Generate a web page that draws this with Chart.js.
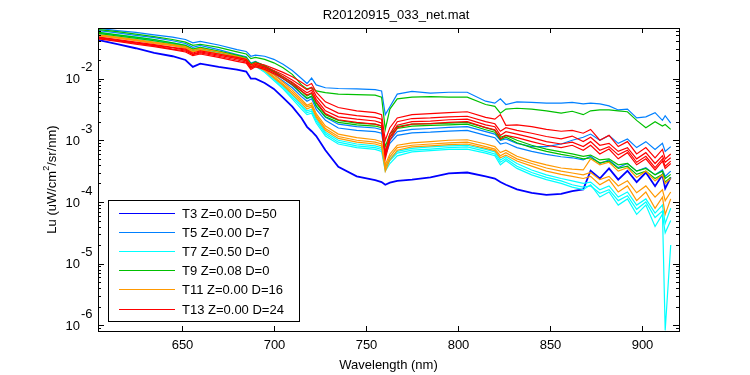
<!DOCTYPE html>
<html>
<head>
<meta charset="utf-8">
<title>R20120915_033_net.mat</title>
<script src="https://cdn.jsdelivr.net/npm/chart.js@4.4.0/dist/chart.umd.min.js"></script>
<style>
  html, body { margin: 0; padding: 0; background: #fff; }
  #wrap { width: 750px; height: 375px; }
</style>
</head>
<body>
<div id="wrap"><canvas id="chart" width="750" height="375"></canvas></div>
<script>
// wavelength grid (nm)
const wavelength = [605, 615, 625, 635, 645, 652, 656, 660, 670, 680, 685, 687.5, 690, 695, 700, 705, 710, 715, 718, 720.5, 723, 728, 735, 745, 755, 758.5, 760.5, 763, 767, 775, 785, 795, 805, 815, 820, 823, 826, 832, 840, 848, 856, 862, 868, 872, 877, 882, 887, 892, 897, 902, 907, 911, 912.5, 915.5];

// T3 (one cast)
const t3 = [4.2e-2, 3.6e-2, 3.1e-2, 2.6e-2, 2.3e-2, 2.0e-2, 1.55e-2, 1.75e-2, 1.55e-2, 1.4e-2, 1.3e-2, 1.0e-2, 1.0e-2, 8.5e-3, 6.8e-3, 4.9e-3, 3.5e-3, 2.3e-3, 1.65e-3, 1.4e-3, 1.17e-3, 6.9e-4, 3.7e-4, 2.6e-4, 2.25e-4, 2.1e-4, 1.9e-4, 2.05e-4, 2.2e-4, 2.3e-4, 2.5e-4, 2.9e-4, 3.0e-4, 2.6e-4, 2.4e-4, 2.1e-4, 1.9e-4, 1.6e-4, 1.4e-4, 1.3e-4, 1.35e-4, 1.5e-4, 1.6e-4, 3.2e-4, 2.4e-4, 3.5e-4, 2.3e-4, 3.2e-4, 2.1e-4, 3.0e-4, 1.8e-4, 2.75e-4, 1.65e-4, 2.5e-4];

// T5
const t5a = [6.5e-2, 6.0e-2, 5.6e-2, 5.1e-2, 4.7e-2, 4.3e-2, 3.8e-2, 4.0e-2, 3.5e-2, 2.95e-2, 2.75e-2, 2.3e-2, 2.4e-2, 2.3e-2, 2.05e-2, 1.7e-2, 1.35e-2, 1.0e-2, 8.3e-3, 1.02e-2, 7.9e-3, 7.1e-3, 6.9e-3, 6.8e-3, 6.6e-3, 6.3e-3, 2.6e-3, 3.5e-3, 5.6e-3, 6.2e-3, 5.8e-3, 6.0e-3, 6.0e-3, 4.3e-3, 4.0e-3, 4.7e-3, 3.8e-3, 4.2e-3, 4.1e-3, 4.0e-3, 4.0e-3, 4.1e-3, 3.9e-3, 4.0e-3, 3.9e-3, 3.6e-3, 3.1e-3, 3.2e-3, 2.3e-3, 2.4e-3, 2.8e-3, 2.1e-3, 2.5e-3, 1.9e-3];
const t5b = [6.0e-2, 5.5e-2, 5.0e-2, 4.6e-2, 4.1e-2, 3.7e-2, 3.2e-2, 3.45e-2, 2.95e-2, 2.45e-2, 2.25e-2, 1.78e-2, 1.9e-2, 1.58e-2, 1.26e-2, 1.0e-2, 7.8e-3, 5.6e-3, 4.7e-3, 5.1e-3, 3.55e-3, 2.35e-3, 1.82e-3, 1.66e-3, 1.58e-3, 1.48e-3, 6.3e-4, 1.0e-3, 1.38e-3, 1.5e-3, 1.55e-3, 1.62e-3, 1.66e-3, 1.38e-3, 1.26e-3, 1.0e-3, 1.05e-3, 8.9e-4, 7.9e-4, 7.9e-4, 8.7e-4, 1.0e-3, 1.12e-3, 1.26e-3, 1.0e-3, 1.2e-3, 8.9e-4, 1.05e-3, 7.6e-4, 9.5e-4, 7.1e-4, 8.9e-4, 6.6e-4, 7.9e-4];
const t5c = [5.5e-2, 5.0e-2, 4.6e-2, 4.2e-2, 3.7e-2, 3.4e-2, 2.95e-2, 3.16e-2, 2.7e-2, 2.3e-2, 2.1e-2, 1.66e-2, 1.78e-2, 1.48e-2, 1.15e-2, 9.1e-3, 7.1e-3, 5.1e-3, 4.3e-3, 4.7e-3, 3.16e-3, 2.1e-3, 1.58e-3, 1.45e-3, 1.38e-3, 1.3e-3, 5.6e-4, 8.9e-4, 1.2e-3, 1.32e-3, 1.35e-3, 1.41e-3, 1.45e-3, 1.2e-3, 1.1e-3, 8.7e-4, 9.1e-4, 7.6e-4, 6.6e-4, 5.9e-4, 5.4e-4, 5.2e-4, 4.8e-4, 5.5e-4, 4.2e-4, 4.8e-4, 3.6e-4, 4.2e-4, 3.16e-4, 3.6e-4, 2.75e-4, 3.3e-4, 2.6e-4, 3.16e-4];

// T7
const t7a = [5.6e-2, 5.1e-2, 4.7e-2, 4.3e-2, 3.8e-2, 3.45e-2, 3.0e-2, 3.2e-2, 2.75e-2, 2.3e-2, 2.1e-2, 1.62e-2, 1.7e-2, 1.38e-2, 1.02e-2, 7.6e-3, 5.4e-3, 3.7e-3, 3.0e-3, 3.16e-3, 2.2e-3, 1.35e-3, 1.0e-3, 8.7e-4, 8.1e-4, 7.6e-4, 3.7e-4, 5.0e-4, 6.6e-4, 7.4e-4, 7.8e-4, 8.1e-4, 8.3e-4, 7.1e-4, 6.5e-4, 4.8e-4, 5.4e-4, 4.2e-4, 3.3e-4, 2.75e-4, 2.4e-4, 2.2e-4, 2.0e-4, 2.1e-4, 1.58e-4, 1.82e-4, 1.2e-4, 1.45e-4, 8.9e-5, 1.12e-4, 6.6e-5, 8.9e-5, 4.5e-5, 7.9e-5];
const t7b = [5.4e-2, 4.9e-2, 4.5e-2, 4.1e-2, 3.6e-2, 3.3e-2, 2.9e-2, 3.1e-2, 2.6e-2, 2.2e-2, 2.0e-2, 1.55e-2, 1.62e-2, 1.32e-2, 9.8e-3, 7.2e-3, 5.0e-3, 3.5e-3, 2.8e-3, 2.95e-3, 2.05e-3, 1.26e-3, 9.3e-4, 8.1e-4, 7.6e-4, 7.1e-4, 3.55e-4, 4.7e-4, 6.2e-4, 6.9e-4, 7.2e-4, 7.6e-4, 7.8e-4, 6.6e-4, 6.0e-4, 4.4e-4, 5.0e-4, 3.8e-4, 3.0e-4, 2.5e-4, 2.2e-4, 1.9e-4, 1.74e-4, 1.82e-4, 1.38e-4, 1.58e-4, 1.05e-4, 1.26e-4, 7.6e-5, 1.0e-4, 5.6e-5, 7.1e-5, 8.3e-7, 2.0e-5];
const t7c = [5.25e-2, 4.8e-2, 4.4e-2, 4.0e-2, 3.55e-2, 3.2e-2, 2.8e-2, 3.0e-2, 2.55e-2, 2.15e-2, 1.95e-2, 1.5e-2, 1.58e-2, 1.26e-2, 9.3e-3, 6.8e-3, 4.7e-3, 3.2e-3, 2.6e-3, 2.75e-3, 1.9e-3, 1.17e-3, 8.7e-4, 7.6e-4, 7.1e-4, 6.6e-4, 3.16e-4, 4.2e-4, 5.6e-4, 6.5e-4, 6.8e-4, 7.1e-4, 7.2e-4, 6.2e-4, 5.6e-4, 4.0e-4, 4.7e-4, 3.5e-4, 2.75e-4, 2.3e-4, 2.0e-4, 1.74e-4, 1.58e-4, 1.9e-4, 1.2e-4, 1.45e-4, 8.9e-5, 1.12e-4, 6.3e-5, 8.9e-5, 4.0e-5, 6.3e-5, 3.16e-5, 5.0e-5];

// T9
const t9a = [6.2e-2, 5.75e-2, 5.25e-2, 4.8e-2, 4.3e-2, 3.9e-2, 3.45e-2, 3.6e-2, 3.2e-2, 2.7e-2, 2.5e-2, 2.1e-2, 2.2e-2, 2.05e-2, 1.8e-2, 1.5e-2, 1.17e-2, 7.9e-3, 6.8e-3, 7.1e-3, 6.3e-3, 5.9e-3, 5.6e-3, 5.5e-3, 5.4e-3, 5.0e-3, 1.5e-3, 3.2e-3, 4.7e-3, 5.0e-3, 5.1e-3, 5.0e-3, 5.0e-3, 3.8e-3, 3.55e-3, 2.75e-3, 3.2e-3, 3.3e-3, 3.2e-3, 3.0e-3, 2.75e-3, 2.95e-3, 2.6e-3, 3.0e-3, 3.1e-3, 3.1e-3, 3.0e-3, 2.9e-3, 2.1e-3, 1.6e-3, 2.0e-3, 1.7e-3, 1.8e-3, 1.5e-3];
const t9b = [5.6e-2, 5.1e-2, 4.7e-2, 4.3e-2, 3.8e-2, 3.45e-2, 3.0e-2, 3.2e-2, 2.8e-2, 2.4e-2, 2.2e-2, 1.74e-2, 1.86e-2, 1.62e-2, 1.32e-2, 1.07e-2, 8.5e-3, 6.3e-3, 5.2e-3, 5.75e-3, 4.0e-3, 2.6e-3, 2.1e-3, 1.9e-3, 1.82e-3, 1.7e-3, 7.9e-4, 1.26e-3, 1.66e-3, 1.82e-3, 1.86e-3, 1.9e-3, 1.95e-3, 1.6e-3, 1.45e-3, 1.12e-3, 1.2e-3, 1.0e-3, 8.3e-4, 7.2e-4, 6.5e-4, 6.0e-4, 5.5e-4, 5.75e-4, 4.8e-4, 5.0e-4, 4.0e-4, 4.2e-4, 3.16e-4, 3.5e-4, 2.75e-4, 3.16e-4, 2.4e-4, 2.8e-4];
const t9c = [5.4e-2, 4.9e-2, 4.5e-2, 4.1e-2, 3.6e-2, 3.3e-2, 2.9e-2, 3.1e-2, 2.7e-2, 2.3e-2, 2.1e-2, 1.66e-2, 1.78e-2, 1.55e-2, 1.26e-2, 1.0e-2, 7.9e-3, 5.75e-3, 4.8e-3, 5.2e-3, 3.6e-3, 2.4e-3, 1.95e-3, 1.78e-3, 1.7e-3, 1.6e-3, 6.3e-4, 1.12e-3, 1.55e-3, 1.7e-3, 1.74e-3, 1.78e-3, 1.82e-3, 1.48e-3, 1.35e-3, 1.02e-3, 1.12e-3, 9.1e-4, 7.6e-4, 6.6e-4, 5.9e-4, 5.5e-4, 5.0e-4, 5.2e-4, 4.3e-4, 4.6e-4, 3.5e-4, 3.8e-4, 2.8e-4, 3.16e-4, 2.4e-4, 2.8e-4, 2.1e-4, 2.5e-4];

// T11
const t11a = [5.1e-2, 4.7e-2, 4.3e-2, 3.9e-2, 3.55e-2, 3.3e-2, 2.9e-2, 3.1e-2, 2.7e-2, 2.3e-2, 2.1e-2, 1.66e-2, 1.78e-2, 1.48e-2, 1.15e-2, 8.7e-3, 6.5e-3, 4.6e-3, 3.7e-3, 4.0e-3, 2.7e-3, 1.7e-3, 1.26e-3, 1.1e-3, 1.02e-3, 9.5e-4, 4.0e-4, 6.0e-4, 8.3e-4, 9.1e-4, 9.5e-4, 1.0e-3, 1.02e-3, 8.7e-4, 7.9e-4, 6.3e-4, 6.9e-4, 5.5e-4, 4.6e-4, 4.0e-4, 3.55e-4, 3.4e-4, 3.3e-4, 5.0e-4, 4.0e-4, 4.4e-4, 3.16e-4, 3.6e-4, 2.5e-4, 3.16e-4, 2.2e-4, 2.75e-4, 2.0e-4, 2.4e-4];
const t11b = [5.0e-2, 4.6e-2, 4.2e-2, 3.8e-2, 3.45e-2, 3.16e-2, 2.75e-2, 2.95e-2, 2.55e-2, 2.2e-2, 2.0e-2, 1.58e-2, 1.7e-2, 1.41e-2, 1.07e-2, 8.1e-3, 6.0e-3, 4.3e-3, 3.5e-3, 3.7e-3, 2.5e-3, 1.55e-3, 1.15e-3, 1.0e-3, 9.3e-4, 8.7e-4, 3.55e-4, 5.4e-4, 7.6e-4, 8.3e-4, 8.7e-4, 9.1e-4, 9.3e-4, 7.9e-4, 7.2e-4, 5.6e-4, 6.3e-4, 5.0e-4, 4.2e-4, 3.55e-4, 3.16e-4, 2.95e-4, 2.75e-4, 3.0e-4, 2.3e-4, 2.6e-4, 1.82e-4, 2.2e-4, 1.41e-4, 1.82e-4, 1.2e-4, 1.58e-4, 1.05e-4, 1.45e-4];
const t11c = [4.9e-2, 4.5e-2, 4.1e-2, 3.7e-2, 3.4e-2, 3.1e-2, 2.7e-2, 2.9e-2, 2.5e-2, 2.15e-2, 1.95e-2, 1.5e-2, 1.62e-2, 1.35e-2, 1.02e-2, 7.8e-3, 5.6e-3, 4.0e-3, 3.2e-3, 3.5e-3, 2.35e-3, 1.45e-3, 1.07e-3, 9.3e-4, 8.7e-4, 8.1e-4, 3.16e-4, 4.8e-4, 6.9e-4, 7.8e-4, 8.1e-4, 8.5e-4, 8.7e-4, 7.4e-4, 6.8e-4, 5.2e-4, 5.75e-4, 4.6e-4, 3.8e-4, 3.16e-4, 2.8e-4, 2.6e-4, 2.4e-4, 2.6e-4, 1.9e-4, 2.3e-4, 1.45e-4, 1.82e-4, 1.05e-4, 1.45e-4, 7.9e-5, 1.2e-4, 6.3e-5, 1.12e-4];

// T13
const t13a = [4.7e-2, 4.3e-2, 3.9e-2, 3.55e-2, 3.2e-2, 3.0e-2, 2.6e-2, 2.8e-2, 2.5e-2, 2.2e-2, 2.05e-2, 1.66e-2, 1.8e-2, 1.66e-2, 1.45e-2, 1.26e-2, 1.07e-2, 8.7e-3, 7.6e-3, 8.3e-3, 6.0e-3, 4.2e-3, 3.4e-3, 3.0e-3, 2.8e-3, 2.6e-3, 1.0e-3, 1.6e-3, 2.3e-3, 2.6e-3, 2.7e-3, 2.8e-3, 2.9e-3, 2.35e-3, 2.2e-3, 2.6e-3, 1.75e-3, 1.78e-3, 1.66e-3, 1.5e-3, 1.4e-3, 1.45e-3, 1.3e-3, 1.5e-3, 1.0e-3, 1.2e-3, 7.9e-4, 9.5e-4, 6.0e-4, 7.6e-4, 5.2e-4, 7.1e-4, 5.0e-4, 6.0e-4];
const t13b = [4.6e-2, 4.2e-2, 3.8e-2, 3.45e-2, 3.16e-2, 2.9e-2, 2.5e-2, 2.7e-2, 2.4e-2, 2.1e-2, 1.95e-2, 1.55e-2, 1.7e-2, 1.55e-2, 1.35e-2, 1.15e-2, 9.5e-3, 7.6e-3, 6.6e-3, 7.2e-3, 5.2e-3, 3.5e-3, 2.75e-3, 2.5e-3, 2.35e-3, 2.2e-3, 6.3e-4, 1.26e-3, 2.0e-3, 2.25e-3, 2.3e-3, 2.4e-3, 2.45e-3, 2.0e-3, 1.85e-3, 1.4e-3, 1.6e-3, 1.45e-3, 1.3e-3, 1.15e-3, 1.05e-3, 1.17e-3, 9.5e-4, 1.12e-3, 8.3e-4, 8.9e-4, 6.6e-4, 7.6e-4, 5.0e-4, 6.3e-4, 4.2e-4, 5.6e-4, 4.4e-4, 5.2e-4];
const t13c = [4.5e-2, 4.1e-2, 3.7e-2, 3.4e-2, 3.0e-2, 2.8e-2, 2.45e-2, 2.6e-2, 2.3e-2, 2.0e-2, 1.86e-2, 1.48e-2, 1.62e-2, 1.48e-2, 1.26e-2, 1.07e-2, 8.7e-3, 6.8e-3, 5.9e-3, 6.5e-3, 4.6e-3, 3.0e-3, 2.4e-3, 2.2e-3, 2.05e-3, 1.9e-3, 5.6e-4, 1.12e-3, 1.75e-3, 2.0e-3, 2.05e-3, 2.15e-3, 2.2e-3, 1.78e-3, 1.66e-3, 1.2e-3, 1.38e-3, 1.26e-3, 1.1e-3, 9.5e-4, 8.7e-4, 9.3e-4, 7.9e-4, 9.5e-4, 6.9e-4, 7.9e-4, 5.8e-4, 6.9e-4, 4.4e-4, 5.5e-4, 3.6e-4, 5.0e-4, 3.8e-4, 4.6e-4];
const t13d = [4.4e-2, 4.0e-2, 3.6e-2, 3.3e-2, 2.95e-2, 2.7e-2, 2.35e-2, 2.5e-2, 2.2e-2, 1.9e-2, 1.78e-2, 1.41e-2, 1.55e-2, 1.41e-2, 1.2e-2, 1.0e-2, 8.1e-3, 6.3e-3, 5.4e-3, 5.9e-3, 4.2e-3, 2.7e-3, 2.15e-3, 1.95e-3, 1.82e-3, 1.7e-3, 5.0e-4, 1.0e-3, 1.6e-3, 1.82e-3, 1.86e-3, 1.95e-3, 2.0e-3, 1.6e-3, 1.48e-3, 1.05e-3, 1.2e-3, 1.1e-3, 9.5e-4, 8.3e-4, 7.6e-4, 8.3e-4, 6.9e-4, 8.3e-4, 6.0e-4, 7.2e-4, 5.0e-4, 6.3e-4, 4.0e-4, 5.0e-4, 3.3e-4, 4.6e-4, 3.5e-4, 4.2e-4];

const legendLabels = ['T3 Z=0.00 D=50', 'T5 Z=0.00 D=7', 'T7 Z=0.50 D=0', 'T9 Z=0.08 D=0', 'T11 Z=0.00 D=16', 'T13 Z=0.00 D=24'];
const groupColors = ['#0000ff', '#0080ff', '#00ffff', '#00c000', '#ff9900', '#ff0000'];
const groupSeries = [[t3], [t5a, t5b, t5c], [t7a, t7b, t7c], [t9a, t9b, t9c], [t11a, t11b, t11c], [t13a, t13b, t13c, t13d]];

const xTicks = [650, 700, 750, 800, 850, 900];
const yTickExponents = [-2, -3, -4, -5, -6];

const FONT = '"Liberation Sans", Arial, Helvetica, sans-serif';

// build datasets, later groups drawn on top
const datasets = [];
groupSeries.forEach((list, g) => {
  list.forEach(values => {
    datasets.push({
      label: legendLabels[g],
      data: wavelength.map((w, i) => ({ x: w, y: values[i] })),
      borderColor: groupColors[g],
      // the T3 cast is noisy, so its trace reads as a thicker band
      borderWidth: g === 0 ? 1.8 : 1.2,
      pointRadius: 0,
      tension: 0,
      fill: false,
      order: -datasets.length
    });
  });
});

// Matlab-like box, ticks, labels and legend
const matlabAxes = {
  id: 'matlabAxes',
  afterDraw(chart) {
    const { ctx, chartArea: a, scales: { x, y } } = chart;
    ctx.save();
    ctx.strokeStyle = '#000';
    ctx.fillStyle = '#000';
    ctx.lineWidth = 1;

    // frame
    ctx.strokeRect(a.left + 0.5, a.top + 0.5, a.right - a.left, a.bottom - a.top);

    // x ticks
    ctx.font = '13px ' + FONT;
    ctx.textAlign = 'center';
    ctx.textBaseline = 'middle';
    xTicks.forEach(v => {
      const px = Math.round(x.getPixelForValue(v)) + 0.5;
      ctx.beginPath();
      ctx.moveTo(px, a.bottom);
      ctx.lineTo(px, a.bottom - 5);
      ctx.moveTo(px, a.top);
      ctx.lineTo(px, a.top + 5);
      ctx.stroke();
      ctx.fillText(String(v), px, 345);
    });

    // y ticks (log, major + minor)
    for (let e = -7; e <= -1; e++) {
      for (let k = 1; k <= 9; k++) {
        const v = k * Math.pow(10, e);
        if (v < y.min || v > y.max) continue;
        const py = Math.round(y.getPixelForValue(v)) + 0.5;
        const len = k === 1 ? 6 : 3;
        ctx.beginPath();
        ctx.moveTo(a.left, py);
        ctx.lineTo(a.left + len, py);
        ctx.moveTo(a.right, py);
        ctx.lineTo(a.right - len, py);
        ctx.stroke();
      }
    }
    yTickExponents.forEach(e => {
      const py = y.getPixelForValue(Math.pow(10, e));
      ctx.textAlign = 'right';
      ctx.fillText('10', 80, py + 1);
      ctx.textAlign = 'left';
      ctx.fillText(String(e), 81, py - 11);
    });

    // axis titles
    ctx.textAlign = 'center';
    ctx.fillText('Wavelength (nm)', (a.left + a.right) / 2, 365);
    ctx.fillText('R20120915_033_net.mat', 396, 15);

    // y title with superscript
    ctx.save();
    ctx.translate(52, (a.top + a.bottom) / 2);
    ctx.rotate(-Math.PI / 2);
    const parts = [['Lu (uW/cm', 13, 0], ['2', 9, -5], ['/sr/nm)', 13, 0]];
    let total = 0;
    parts.forEach(p => { ctx.font = p[1] + 'px ' + FONT; total += ctx.measureText(p[0]).width; });
    let cx = -total / 2;
    ctx.textAlign = 'left';
    parts.forEach(p => {
      ctx.font = p[1] + 'px ' + FONT;
      ctx.fillText(p[0], cx, p[2]);
      cx += ctx.measureText(p[0]).width;
    });
    ctx.restore();

    // legend
    const lx = 108.5, ly = 200.5, lw = 191, lh = 121;
    ctx.fillStyle = '#fff';
    ctx.fillRect(lx, ly, lw, lh);
    ctx.strokeStyle = '#000';
    ctx.strokeRect(lx, ly, lw, lh);
    ctx.font = '13px ' + FONT;
    ctx.textAlign = 'left';
    ctx.textBaseline = 'middle';
    legendLabels.forEach((lab, i) => {
      const ry = Math.round(213 + i * 19.1) + 0.5;
      ctx.strokeStyle = groupColors[i];
      ctx.beginPath();
      ctx.moveTo(119, ry);
      ctx.lineTo(175, ry);
      ctx.stroke();
      ctx.fillStyle = '#000';
      ctx.fillText(lab, 182, ry + 0.5);
    });
    ctx.restore();
  }
};

new Chart(document.getElementById('chart'), {
  type: 'line',
  data: { datasets },
  options: {
    responsive: false,
    animation: false,
    events: [],
    layout: { padding: { left: 98, right: 71, top: 28, bottom: 44 } },
    plugins: {
      legend: { display: false },
      tooltip: { enabled: false }
    },
    scales: {
      x: { type: 'linear', min: 604.5, max: 920, display: false },
      y: { type: 'logarithmic', min: 8.1e-7, max: 6.6e-2, display: false }
    }
  },
  plugins: [matlabAxes]
});
</script>
</body>
</html>
